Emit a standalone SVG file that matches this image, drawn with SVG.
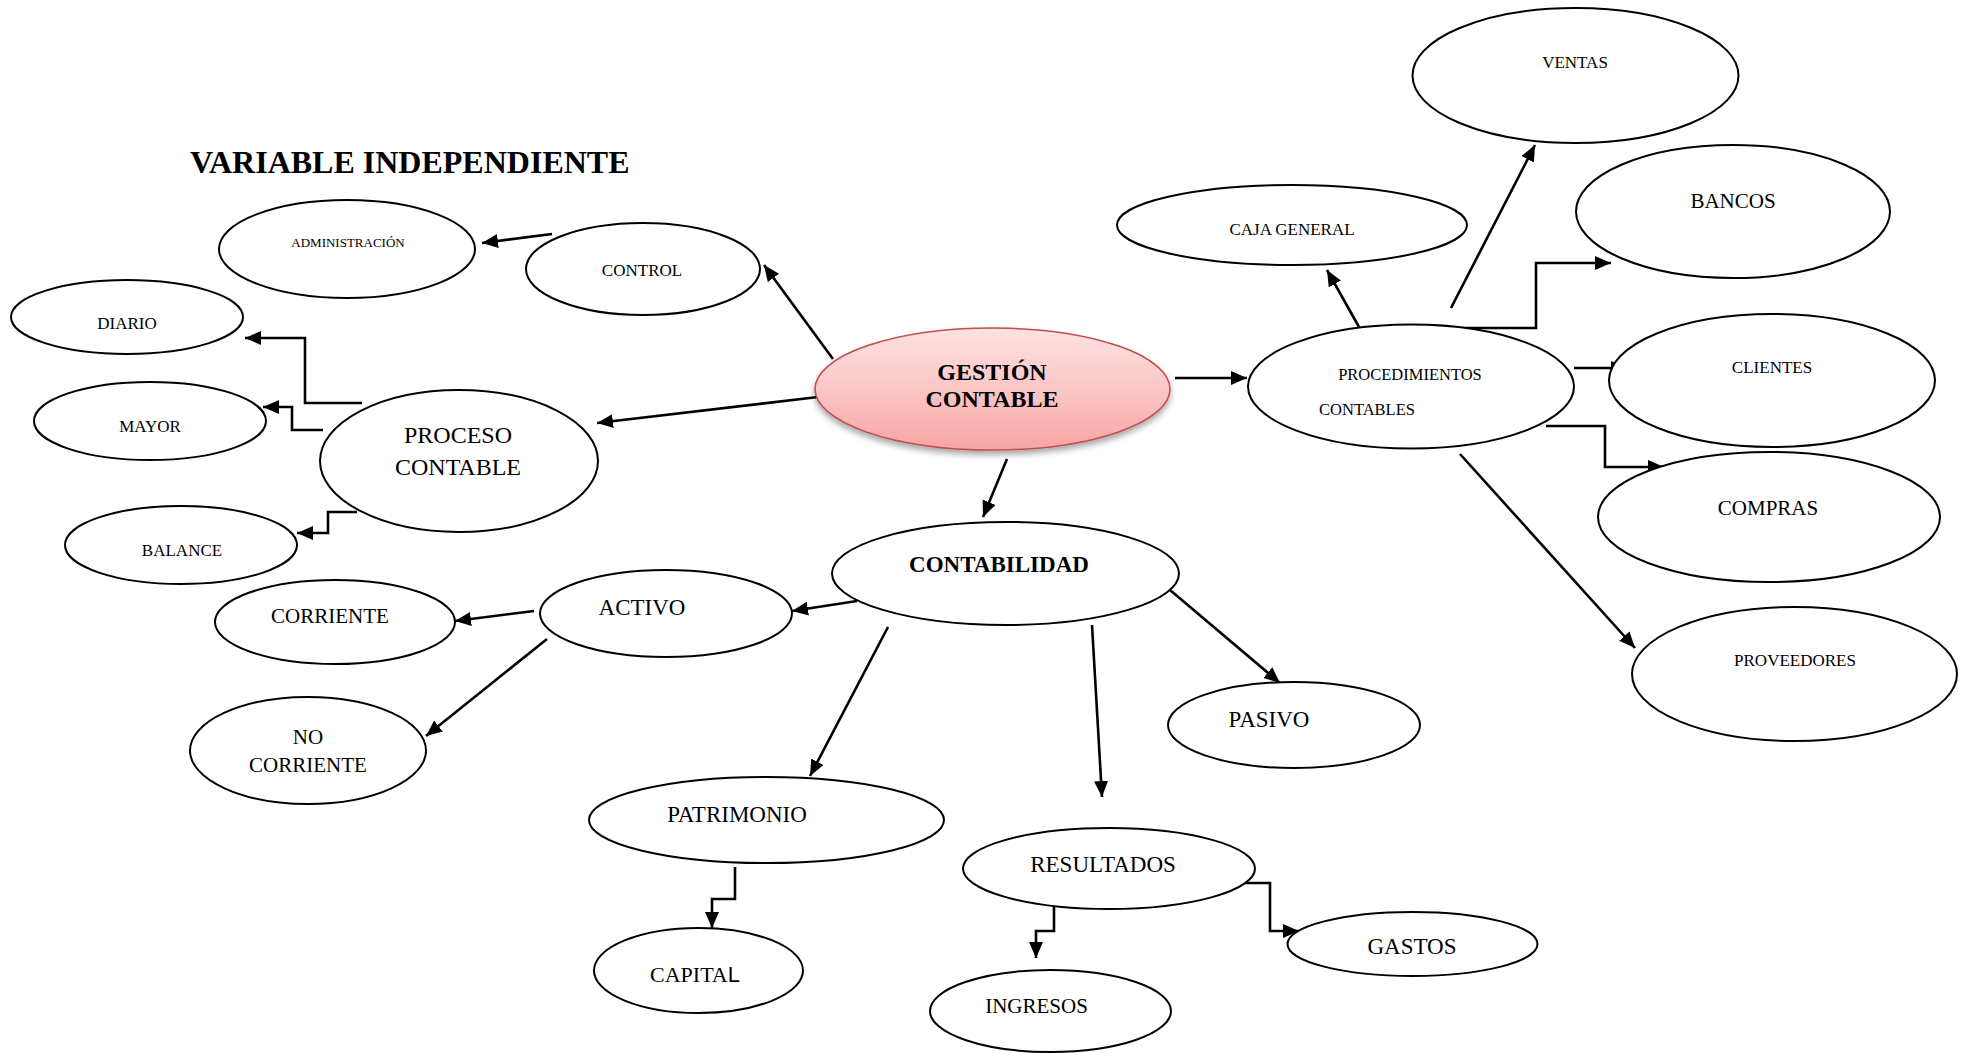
<svg xmlns="http://www.w3.org/2000/svg" width="1963" height="1053" viewBox="0 0 1963 1053">
  <style>
    .node { fill: #ffffff; stroke: #000000; stroke-width: 2; }
    .lbl { font-family: "Liberation Serif", "Times New Roman", serif; fill: #000000; text-anchor: middle; }
    .b { font-weight: bold; }
    .link { fill: none; stroke: #000000; stroke-width: 2.6; marker-end: url(#arrow); }
  </style>
  <defs>
    <marker id="arrow" markerUnits="userSpaceOnUse" markerWidth="17" markerHeight="15" refX="16" refY="7" orient="auto">
      <path d="M0,0 L16,7 L0,14 z" fill="#000000"/>
    </marker>
    <linearGradient id="pink" x1="0" y1="0" x2="0" y2="1">
      <stop offset="0" stop-color="#fde2e2"/>
      <stop offset="0.5" stop-color="#fbc6c6"/>
      <stop offset="1" stop-color="#f8a4a4"/>
    </linearGradient>
    <filter id="shadow" x="-20%" y="-20%" width="140%" height="150%">
      <feGaussianBlur in="SourceAlpha" stdDeviation="3"/>
      <feOffset dx="0" dy="4" result="off"/>
      <feComponentTransfer><feFuncA type="linear" slope="0.35"/></feComponentTransfer>
      <feMerge><feMergeNode/><feMergeNode in="SourceGraphic"/></feMerge>
    </filter>
  </defs>

  <rect width="1963" height="1053" fill="#ffffff"/>

  <text x="190" y="173" style="font-family: 'Liberation Serif', 'Times New Roman', serif; font-weight: bold; font-size: 32px;">VARIABLE INDEPENDIENTE</text>

  <!-- connectors -->
  <g id="connectors">
    <line class="link" x1="552" y1="234" x2="482" y2="243"/>
    <line class="link" x1="833" y1="359" x2="764" y2="265"/>
    <line class="link" x1="818" y1="397" x2="597" y2="423"/>
    <path class="link" d="M362,403 H305 V338 H245"/>
    <path class="link" d="M323,430 H292 V407 H263"/>
    <path class="link" d="M357,512 H328 V533 H297"/>
    <line class="link" x1="1175" y1="378" x2="1247" y2="378"/>
    <line class="link" x1="1007" y1="459" x2="983" y2="517"/>
    <line class="link" x1="857" y1="601" x2="792" y2="611"/>
    <line class="link" x1="888" y1="627" x2="810" y2="776"/>
    <line class="link" x1="1092" y1="625" x2="1102" y2="797"/>
    <line class="link" x1="1170" y1="590" x2="1280" y2="683"/>
    <line class="link" x1="534" y1="611" x2="455" y2="621"/>
    <line class="link" x1="547" y1="639" x2="426" y2="736"/>
    <path class="link" d="M735,867 V899 H712 V928"/>
    <path class="link" d="M1054,903 V931 H1036 V958"/>
    <path class="link" d="M1246,883 H1270 V931 H1299"/>
    <line class="link" x1="1359" y1="327" x2="1327" y2="270"/>
    <line class="link" x1="1451" y1="308" x2="1535" y2="145"/>
    <path class="link" d="M1460,328 H1536 V263 H1611"/>
    <line class="link" x1="1574" y1="368" x2="1627" y2="368"/>
    <path class="link" d="M1546,426 H1605 V467 H1664"/>
    <line class="link" x1="1460" y1="454" x2="1635" y2="648"/>
  </g>

  <!-- nodes -->
  <g id="n-administracion">
    <ellipse class="node" cx="347" cy="249" rx="128" ry="49"/>
    <text class="lbl" x="348" y="247" font-size="13">ADMINISTRACIÓN</text>
  </g>
  <g id="n-control">
    <ellipse class="node" cx="643" cy="269" rx="117" ry="46"/>
    <text class="lbl" x="642" y="276" font-size="17">CONTROL</text>
  </g>
  <g id="n-diario">
    <ellipse class="node" cx="127" cy="317" rx="116" ry="37"/>
    <text class="lbl" x="127" y="329" font-size="17">DIARIO</text>
  </g>
  <g id="n-mayor">
    <ellipse class="node" cx="150" cy="421" rx="116" ry="39"/>
    <text class="lbl" x="150" y="432" font-size="17">MAYOR</text>
  </g>
  <g id="n-proceso">
    <ellipse class="node" cx="459" cy="461" rx="139" ry="71"/>
    <text class="lbl" x="458" y="443" font-size="24">PROCESO</text>
    <text class="lbl" x="458" y="475" font-size="24">CONTABLE</text>
  </g>
  <g id="n-balance">
    <ellipse class="node" cx="181" cy="545" rx="116" ry="39"/>
    <text class="lbl" x="182" y="556" font-size="17">BALANCE</text>
  </g>
  <g id="n-gestion">
    <ellipse cx="992.5" cy="389" rx="177.5" ry="61" fill="url(#pink)" stroke="#c0504d" stroke-width="1.6" filter="url(#shadow)"/>
    <text class="lbl b" x="992" y="380" font-size="24">GESTIÓN</text>
    <text class="lbl b" x="992" y="407" font-size="24">CONTABLE</text>
  </g>
  <g id="n-contabilidad">
    <ellipse class="node" cx="1005.5" cy="573.5" rx="173.5" ry="51.5"/>
    <text class="lbl b" x="999" y="572" font-size="23">CONTABILIDAD</text>
  </g>
  <g id="n-procedimientos">
    <ellipse class="node" cx="1411" cy="386.5" rx="163" ry="62"/>
    <text class="lbl" x="1410" y="380" font-size="16.5">PROCEDIMIENTOS</text>
    <text class="lbl" x="1367" y="415" font-size="16.5">CONTABLES</text>
  </g>
  <g id="n-caja">
    <ellipse class="node" cx="1292" cy="225" rx="175" ry="40"/>
    <text class="lbl" x="1292" y="235" font-size="17">CAJA GENERAL</text>
  </g>
  <g id="n-ventas">
    <ellipse class="node" cx="1575.5" cy="75.5" rx="163" ry="67.5"/>
    <text class="lbl" x="1575" y="68" font-size="17">VENTAS</text>
  </g>
  <g id="n-bancos">
    <ellipse class="node" cx="1733" cy="211.5" rx="157" ry="66.5"/>
    <text class="lbl" x="1733" y="208" font-size="21">BANCOS</text>
  </g>
  <g id="n-clientes">
    <ellipse class="node" cx="1772" cy="380.5" rx="163" ry="66.5"/>
    <text class="lbl" x="1772" y="373" font-size="17">CLIENTES</text>
  </g>
  <g id="n-compras">
    <ellipse class="node" cx="1769" cy="517" rx="171" ry="65"/>
    <text class="lbl" x="1768" y="515" font-size="21">COMPRAS</text>
  </g>
  <g id="n-proveedores">
    <ellipse class="node" cx="1794.5" cy="674" rx="162.5" ry="67"/>
    <text class="lbl" x="1795" y="666" font-size="17">PROVEEDORES</text>
  </g>
  <g id="n-pasivo">
    <ellipse class="node" cx="1294" cy="725" rx="126" ry="43"/>
    <text class="lbl" x="1269" y="727" font-size="23">PASIVO</text>
  </g>
  <g id="n-resultados">
    <ellipse class="node" cx="1109" cy="868.5" rx="146" ry="40.5"/>
    <text class="lbl" x="1103" y="872" font-size="23">RESULTADOS</text>
  </g>
  <g id="n-gastos">
    <ellipse class="node" cx="1412.5" cy="944" rx="125" ry="32"/>
    <text class="lbl" x="1412" y="954" font-size="23">GASTOS</text>
  </g>
  <g id="n-ingresos">
    <ellipse class="node" cx="1050.5" cy="1011" rx="120.5" ry="41"/>
    <text class="lbl" x="1036.5" y="1013" font-size="21">INGRESOS</text>
  </g>
  <g id="n-patrimonio">
    <ellipse class="node" cx="766.5" cy="820" rx="177.5" ry="43"/>
    <text class="lbl" x="737" y="822" font-size="23">PATRIMONIO</text>
  </g>
  <g id="n-capital">
    <ellipse class="node" cx="698.5" cy="970.5" rx="104.5" ry="42.5"/>
    <text class="lbl" x="695" y="982" font-size="22">CAPITA<tspan font-family="'Liberation Sans', Arial, sans-serif">L</tspan></text>
  </g>
  <g id="n-activo">
    <ellipse class="node" cx="666" cy="613.5" rx="126" ry="43.5"/>
    <text class="lbl" x="642" y="615" font-size="23">ACTIVO</text>
  </g>
  <g id="n-corriente">
    <ellipse class="node" cx="335" cy="622" rx="120" ry="42"/>
    <text class="lbl" x="330" y="623" font-size="21">CORRIENTE</text>
  </g>
  <g id="n-nocorriente">
    <ellipse class="node" cx="308" cy="750.5" rx="118" ry="53.5"/>
    <text class="lbl" x="308" y="744" font-size="21">NO</text>
    <text class="lbl" x="308" y="772" font-size="21">CORRIENTE</text>
  </g>
</svg>
